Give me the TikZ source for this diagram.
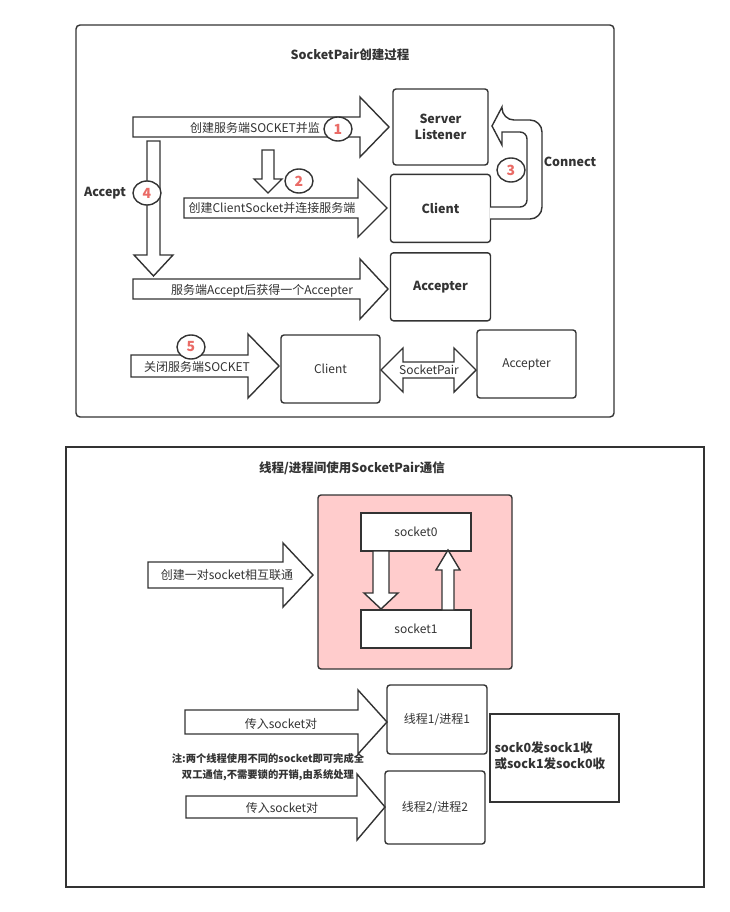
\documentclass[tikz,border=0pt]{standalone}
\usepackage{fontspec}
\setmainfont{Noto Sans CJK SC}
\usetikzlibrary{positioning,shapes.geometric}
\definecolor{linegray}{HTML}{333333}
\definecolor{numred}{HTML}{EA6B66}
\definecolor{pinkfill}{HTML}{FFCCCC}

% block arrows: x0, head base, tip, centre, shaft half, head half
\newcommand{\harrow}[6]{\draw[blk] (#1,#4-#5) -- (#2,#4-#5) -- (#2,#4-#6) -- (#3,#4) -- (#2,#4+#6) -- (#2,#4+#5) -- (#1,#4+#5) -- cycle;}
\newcommand{\varrow}[6]{\draw[blk] (#1-#5,#2) -- (#1-#5,#3) -- (#1-#6,#3) -- (#1,#4) -- (#1+#6,#3) -- (#1+#5,#3) -- (#1+#5,#2) -- cycle;}

\begin{document}
\begin{tikzpicture}[x=1pt,y=-1pt,
  every node/.style={text=linegray,font=\fontsize{12}{15}\selectfont},
  blk/.style={draw=linegray,line width=1.4pt,fill=white,line join=miter},
  box/.style={draw=linegray,line width=1.4pt,rounded corners=3pt,fill=white,minimum width=100pt,minimum height=68pt},
  bold/.style={font=\fontsize{12.5}{16}\selectfont\bfseries},
  num/.style={ellipse,draw=linegray,line width=1.4pt,fill=white,minimum width=28pt,minimum height=24pt,inner sep=0pt,text=numred,font=\fontsize{14}{15}\selectfont\bfseries},
  frame/.style={draw=linegray,line width=1.4pt}]
\useasboundingbox (0,0) rectangle (729,912);
\fill[white] (0,0) rectangle (729,912);

%% part one
\draw[frame,rounded corners=4pt] (76,25) rectangle (614,417);
\node[bold] (title1) at (350,55) {SocketPair创建过程};

\node[box,bold,minimum width=95pt,minimum height=76pt,align=center] (srv) at (440.5,127) {Server\\Listener};
\node[box,bold,below=8pt of srv.south,anchor=north] (cli) {Client};
\node[box,bold,below=9pt of cli] (acc) {Accepter};

% 1
\harrow{133}{360}{389}{127}{10}{30}
\node (t1) at (255,128) {创建服务端SOCKET并监};
\node[num] (n1) at (338,129) {1};

% 2
\varrow{268}{150}{179}{193}{6}{14}
\node[num] (n2) at (299,181) {2};
\harrow{184}{358}{387}{208}{10}{29}
\node (t2) at (272,208) {创建ClientSocket并连接服务端};

% 3
\draw[blk,rounded corners=12pt] (490,219) -- (542,219) -- (542,120) -- (502,120)
  [sharp corners] -- (502,107) -- (492,126) -- (502,145) -- (502,132)
  [rounded corners=7pt] -- (527,132) -- (527,207) [sharp corners] -- (490,207);
\node[num] (n3) at (511,170) {3};
\node[bold] (conn) at (570,162) {Connect};

% 4
\varrow{153.5}{141}{255}{276}{6.5}{19.5}
\node[num] (n4) at (147,193) {4};
\node[bold] (acpt) at (105,193) {Accept};
\harrow{133}{360}{388}{289}{10}{30}
\node (t4) at (262,291) {服务端Accept后获得一个Accepter};

% 5
\harrow{131}{248}{279}{366}{11}{32}
\node (t5) at (197,367) {关闭服务端SOCKET};
\node[num] (n5) at (191,347) {5};
\node[box,minimum width=99pt] (cli2) at (330.5,369) {Client};
\node[box,minimum width=99pt] (acc2) at (526.5,364) {Accepter};
\draw[blk] (381,370) -- (403,348) -- (403,362) -- (454,362) -- (454,348) -- (476,370)
  -- (454,392) -- (454,378) -- (403,378) -- (403,392) -- cycle;
\node (pair) at (429,370) {SocketPair};

%% part two
\draw[frame] (66,447) rectangle (704,887);
\node[bold] (title2) at (352,468) {线程/进程间使用SocketPair通信};

\node[box,fill=pinkfill,minimum width=194pt,minimum height=174pt] (pair2) at (415,582) {};
\node[draw=linegray,line width=1.4pt,fill=white,minimum width=110pt,minimum height=38pt] (s0) at (416,532) {socket0};
\node[draw=linegray,line width=1.4pt,fill=white,minimum width=110pt,minimum height=38pt] (s1) at (416,629) {socket1};
\varrow{381}{551}{593}{609}{8}{17}
\varrow{448}{610}{570}{550}{6}{12}

\harrow{148}{283}{313}{575}{13}{32}
\node (t6) at (227,575) {创建一对socket相互联通};

\node[box,minimum height=69pt] (th1) at (437,719.5) {线程1/进程1};
\node[box,minimum height=73pt] (th2) at (435,807.5) {线程2/进程2};
\node[draw=linegray,line width=1.4pt,minimum width=129pt,minimum height=88pt] (res) at (554.5,758) {};
\node[bold,align=left,anchor=west] (restxt) at (491,756) {sock0发sock1收\\或sock1发sock0收};

\harrow{185}{358}{387}{722}{12}{32}
\node (t7) at (281,724) {传入socket对};
\harrow{186}{357}{385}{807}{11}{33}
\node (t8) at (282,808) {传入socket对};
\node[align=center,font=\fontsize{10.3}{16}\selectfont\bfseries] (note) at (268,767) {注:两个线程使用不同的socket即可完成全\\双工通信,不需要锁的开销,由系统处理};
\end{tikzpicture}
\end{document}
